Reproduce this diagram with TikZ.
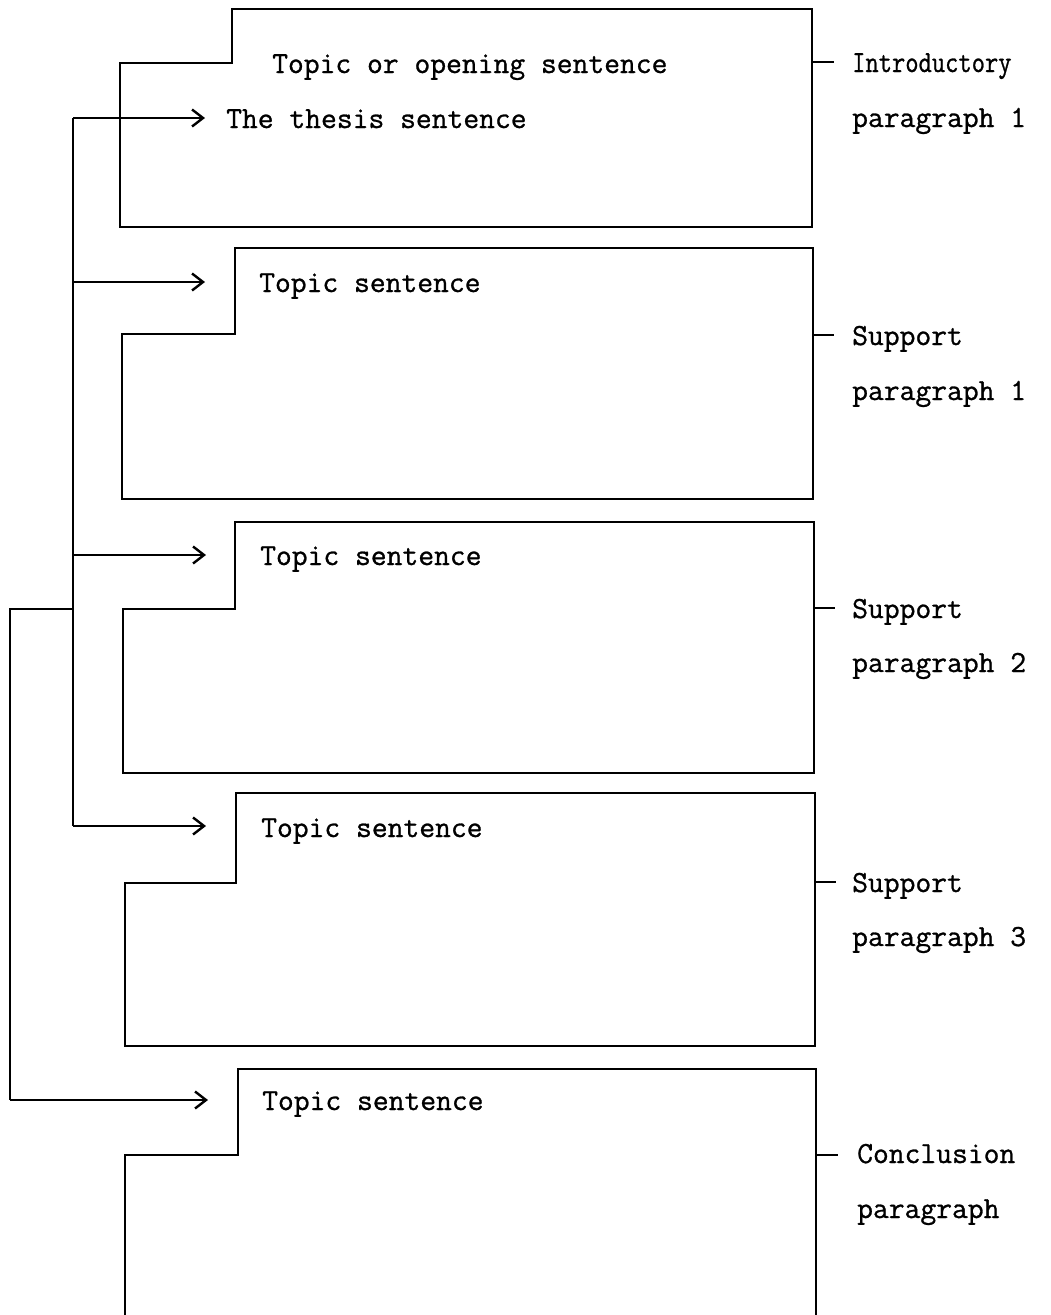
\documentclass[tikz,border=0pt]{standalone}
\usepackage{fontspec}
\setmonofont[FakeBold=0.9]{Latin Modern Mono}
\usetikzlibrary{arrows.meta}
\begin{document}
\begin{tikzpicture}[x=1pt,y=-1pt,
  box/.style={draw, line width=2.8pt, line join=miter},
  txt/.style={anchor=base west, inner sep=0pt, font=\ttfamily\bfseries\fontsize{30.7}{36}\selectfont},
  bus/.style={draw, line width=2.6pt, line join=miter},
  feed/.style={draw, line width=2.6pt, -{Straight Barb[length=11pt,width=17pt,line width=2.4pt]}, shorten >=-1pt},
  tickline/.style={draw, line width=2.4pt}]
\useasboundingbox (0,0) rectangle (1051,1315);

% paragraph boxes
\draw[box] (232,9) -- (812,9) -- (812,227) -- (120,227) -- (120,63) -- (232,63) -- cycle;
\draw[box] (235,248) -- (813,248) -- (813,499) -- (122,499) -- (122,334) -- (235,334) -- cycle;
\draw[box] (235,522) -- (814,522) -- (814,773) -- (123,773) -- (123,609) -- (235,609) -- cycle;
\draw[box] (236,793) -- (815,793) -- (815,1046) -- (125,1046) -- (125,883) -- (236,883) -- cycle;
\draw[box] (816,1322) -- (816,1069) -- (238,1069) -- (238,1155) -- (125,1155) -- (125,1322);

% texts inside boxes
\node[txt] (opening) at (272,73) {Topic or opening sentence};
\node[txt] (thesis) at (226,128) {The thesis sentence};
\node[txt] (ts1) at (259,292) {Topic sentence};
\node[txt] (ts2) at (260,565) {Topic sentence};
\node[txt] (ts3) at (261,837) {Topic sentence};
\node[txt] (ts4) at (262,1110) {Topic sentence};

% right labels
\node[txt] (l1a) at (852,72) {\scalebox{0.84}[1]{Introductory}};
\node[txt] (l1b) at (852,127) {paragraph 1};
\node[txt] (l2a) at (852,345) {Support};
\node[txt] (l2b) at (852,400) {paragraph 1};
\node[txt] (l3a) at (852,618) {Support};
\node[txt] (l3b) at (852,672) {paragraph 2};
\node[txt] (l4a) at (852,892) {Support};
\node[txt] (l4b) at (852,946) {paragraph 3};
\node[txt] (l5a) at (857,1163) {Conclusion};
\node[txt] (l5b) at (857,1218) {paragraph};

% ticks
\coordinate (r1) at (812,62);   \coordinate (k1) at (834,62);
\coordinate (r2) at (813,335);  \coordinate (k2) at (834,335);
\coordinate (r3) at (814,608);  \coordinate (k3) at (835,608);
\coordinate (r4) at (815,882);  \coordinate (k4) at (836,882);
\coordinate (r5) at (816,1155); \coordinate (k5) at (838,1155);
\foreach \i in {1,...,5} {\draw[tickline] (r\i) -- (k\i);}

% bus and arrows
\coordinate (b1) at (73,118);
\coordinate (b2) at (73,282);
\coordinate (b3) at (73,555);
\coordinate (bj) at (73,609);
\coordinate (b4) at (73,826);
\coordinate (c1) at (10,609);
\coordinate (c2) at (10,1100);
\coordinate (t1) at (204,118);
\coordinate (t2) at (204,282);
\coordinate (t3) at (205,555);
\coordinate (t4) at (205,826);
\coordinate (t5) at (207,1100);

\draw[bus] (b1) -- (b4);
\draw[bus] (bj) -- (c1) -- (c2);
\draw[feed] (b1) -- (t1);
\draw[feed] (b2) -- (t2);
\draw[feed] (b3) -- (t3);
\draw[feed] (b4) -- (t4);
\draw[feed] (c2) -- (t5);
\end{tikzpicture}
\end{document}
